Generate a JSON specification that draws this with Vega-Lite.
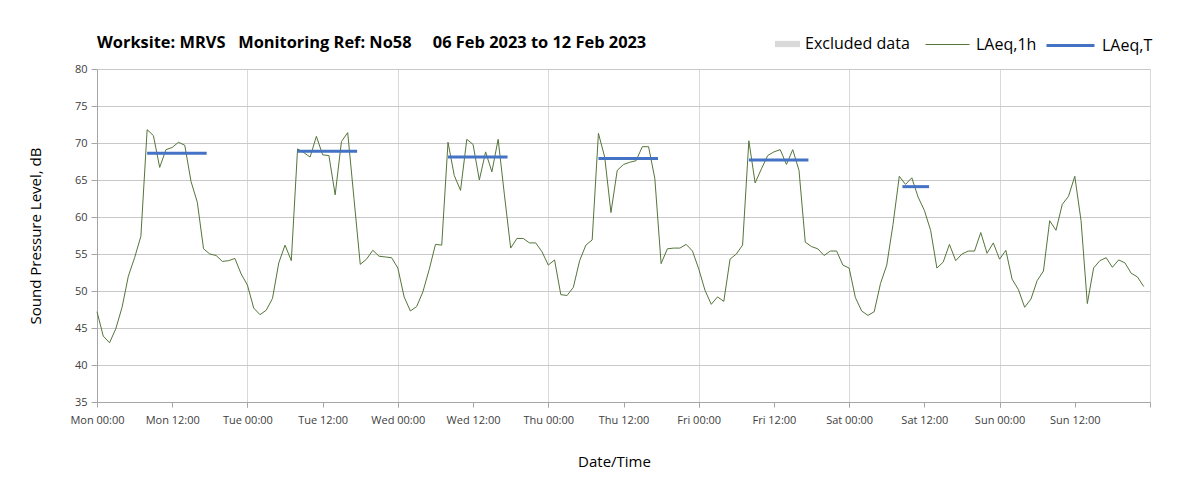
{
  "$schema": "https://vega.github.io/schema/vega-lite/v6.json",
  "width": 1053,
  "height": 333,
  "autosize": {"type": "none"},
  "padding": {"left": 97, "top": 69, "right": 53, "bottom": 94},
  "background": "white",
  "config": {"view": {"stroke": null}},
  "title": {
    "text": "Worksite: MRVS\u00a0\u00a0\u00a0Monitoring Ref: No58\u00a0\u00a0\u00a0\u00a0\u00a006 Feb 2023 to 12 Feb 2023",
    "anchor": "start",
    "frame": "group",
    "font": "Open Sans",
    "fontSize": 16.4,
    "fontWeight": "bold",
    "color": "#000000",
    "offset": 20,
    "dy": 51
  },
  "resolve": {"axis": {"x": "independent"}, "scale": {"stroke": "independent"}},
  "datasets": {
    "hourly": [
      {"t": "2023-02-06T00:00:00", "laeq": 47.2}, {"t": "2023-02-06T01:00:00", "laeq": 43.9}, {"t": "2023-02-06T02:00:00", "laeq": 43.0}, {"t": "2023-02-06T03:00:00", "laeq": 44.9},
      {"t": "2023-02-06T04:00:00", "laeq": 47.8}, {"t": "2023-02-06T05:00:00", "laeq": 52.0}, {"t": "2023-02-06T06:00:00", "laeq": 54.5}, {"t": "2023-02-06T07:00:00", "laeq": 57.4},
      {"t": "2023-02-06T08:00:00", "laeq": 71.8}, {"t": "2023-02-06T09:00:00", "laeq": 71.0}, {"t": "2023-02-06T10:00:00", "laeq": 66.7}, {"t": "2023-02-06T11:00:00", "laeq": 69.1},
      {"t": "2023-02-06T12:00:00", "laeq": 69.4}, {"t": "2023-02-06T13:00:00", "laeq": 70.1}, {"t": "2023-02-06T14:00:00", "laeq": 69.7}, {"t": "2023-02-06T15:00:00", "laeq": 64.8},
      {"t": "2023-02-06T16:00:00", "laeq": 62.0}, {"t": "2023-02-06T17:00:00", "laeq": 55.7}, {"t": "2023-02-06T18:00:00", "laeq": 55.0}, {"t": "2023-02-06T19:00:00", "laeq": 54.8},
      {"t": "2023-02-06T20:00:00", "laeq": 54.0}, {"t": "2023-02-06T21:00:00", "laeq": 54.1}, {"t": "2023-02-06T22:00:00", "laeq": 54.4}, {"t": "2023-02-06T23:00:00", "laeq": 52.3},
      {"t": "2023-02-07T00:00:00", "laeq": 50.8}, {"t": "2023-02-07T01:00:00", "laeq": 47.7}, {"t": "2023-02-07T02:00:00", "laeq": 46.8}, {"t": "2023-02-07T03:00:00", "laeq": 47.4},
      {"t": "2023-02-07T04:00:00", "laeq": 49.0}, {"t": "2023-02-07T05:00:00", "laeq": 53.8}, {"t": "2023-02-07T06:00:00", "laeq": 56.2}, {"t": "2023-02-07T07:00:00", "laeq": 54.1},
      {"t": "2023-02-07T08:00:00", "laeq": 69.2}, {"t": "2023-02-07T09:00:00", "laeq": 68.7}, {"t": "2023-02-07T10:00:00", "laeq": 68.1}, {"t": "2023-02-07T11:00:00", "laeq": 70.9},
      {"t": "2023-02-07T12:00:00", "laeq": 68.4}, {"t": "2023-02-07T13:00:00", "laeq": 68.3}, {"t": "2023-02-07T14:00:00", "laeq": 63.0}, {"t": "2023-02-07T15:00:00", "laeq": 70.2},
      {"t": "2023-02-07T16:00:00", "laeq": 71.4}, {"t": "2023-02-07T17:00:00", "laeq": 62.5}, {"t": "2023-02-07T18:00:00", "laeq": 53.6}, {"t": "2023-02-07T19:00:00", "laeq": 54.3},
      {"t": "2023-02-07T20:00:00", "laeq": 55.5}, {"t": "2023-02-07T21:00:00", "laeq": 54.7}, {"t": "2023-02-07T22:00:00", "laeq": 54.6}, {"t": "2023-02-07T23:00:00", "laeq": 54.5},
      {"t": "2023-02-08T00:00:00", "laeq": 53.1}, {"t": "2023-02-08T01:00:00", "laeq": 49.2}, {"t": "2023-02-08T02:00:00", "laeq": 47.3}, {"t": "2023-02-08T03:00:00", "laeq": 47.9},
      {"t": "2023-02-08T04:00:00", "laeq": 49.9}, {"t": "2023-02-08T05:00:00", "laeq": 52.9}, {"t": "2023-02-08T06:00:00", "laeq": 56.3}, {"t": "2023-02-08T07:00:00", "laeq": 56.2},
      {"t": "2023-02-08T08:00:00", "laeq": 70.1}, {"t": "2023-02-08T09:00:00", "laeq": 65.6}, {"t": "2023-02-08T10:00:00", "laeq": 63.6}, {"t": "2023-02-08T11:00:00", "laeq": 70.5},
      {"t": "2023-02-08T12:00:00", "laeq": 69.8}, {"t": "2023-02-08T13:00:00", "laeq": 65.0}, {"t": "2023-02-08T14:00:00", "laeq": 68.8}, {"t": "2023-02-08T15:00:00", "laeq": 66.1},
      {"t": "2023-02-08T16:00:00", "laeq": 70.5}, {"t": "2023-02-08T17:00:00", "laeq": 63.0}, {"t": "2023-02-08T18:00:00", "laeq": 55.8}, {"t": "2023-02-08T19:00:00", "laeq": 57.1},
      {"t": "2023-02-08T20:00:00", "laeq": 57.1}, {"t": "2023-02-08T21:00:00", "laeq": 56.5}, {"t": "2023-02-08T22:00:00", "laeq": 56.5}, {"t": "2023-02-08T23:00:00", "laeq": 55.3},
      {"t": "2023-02-09T00:00:00", "laeq": 53.5}, {"t": "2023-02-09T01:00:00", "laeq": 54.2}, {"t": "2023-02-09T02:00:00", "laeq": 49.5}, {"t": "2023-02-09T03:00:00", "laeq": 49.4},
      {"t": "2023-02-09T04:00:00", "laeq": 50.5}, {"t": "2023-02-09T05:00:00", "laeq": 54.1}, {"t": "2023-02-09T06:00:00", "laeq": 56.2}, {"t": "2023-02-09T07:00:00", "laeq": 56.9},
      {"t": "2023-02-09T08:00:00", "laeq": 71.3}, {"t": "2023-02-09T09:00:00", "laeq": 68.1}, {"t": "2023-02-09T10:00:00", "laeq": 60.6}, {"t": "2023-02-09T11:00:00", "laeq": 66.3},
      {"t": "2023-02-09T12:00:00", "laeq": 67.1}, {"t": "2023-02-09T13:00:00", "laeq": 67.4}, {"t": "2023-02-09T14:00:00", "laeq": 67.6}, {"t": "2023-02-09T15:00:00", "laeq": 69.5},
      {"t": "2023-02-09T16:00:00", "laeq": 69.5}, {"t": "2023-02-09T17:00:00", "laeq": 65.2}, {"t": "2023-02-09T18:00:00", "laeq": 53.7}, {"t": "2023-02-09T19:00:00", "laeq": 55.7},
      {"t": "2023-02-09T20:00:00", "laeq": 55.8}, {"t": "2023-02-09T21:00:00", "laeq": 55.8}, {"t": "2023-02-09T22:00:00", "laeq": 56.3}, {"t": "2023-02-09T23:00:00", "laeq": 55.4},
      {"t": "2023-02-10T00:00:00", "laeq": 53.0}, {"t": "2023-02-10T01:00:00", "laeq": 50.1}, {"t": "2023-02-10T02:00:00", "laeq": 48.2}, {"t": "2023-02-10T03:00:00", "laeq": 49.2},
      {"t": "2023-02-10T04:00:00", "laeq": 48.6}, {"t": "2023-02-10T05:00:00", "laeq": 54.3}, {"t": "2023-02-10T06:00:00", "laeq": 55.0}, {"t": "2023-02-10T07:00:00", "laeq": 56.2},
      {"t": "2023-02-10T08:00:00", "laeq": 70.3}, {"t": "2023-02-10T09:00:00", "laeq": 64.6}, {"t": "2023-02-10T10:00:00", "laeq": 66.5}, {"t": "2023-02-10T11:00:00", "laeq": 68.3},
      {"t": "2023-02-10T12:00:00", "laeq": 68.8}, {"t": "2023-02-10T13:00:00", "laeq": 69.1}, {"t": "2023-02-10T14:00:00", "laeq": 67.1}, {"t": "2023-02-10T15:00:00", "laeq": 69.1},
      {"t": "2023-02-10T16:00:00", "laeq": 66.3}, {"t": "2023-02-10T17:00:00", "laeq": 56.6}, {"t": "2023-02-10T18:00:00", "laeq": 56.0}, {"t": "2023-02-10T19:00:00", "laeq": 55.7},
      {"t": "2023-02-10T20:00:00", "laeq": 54.8}, {"t": "2023-02-10T21:00:00", "laeq": 55.4}, {"t": "2023-02-10T22:00:00", "laeq": 55.4}, {"t": "2023-02-10T23:00:00", "laeq": 53.5},
      {"t": "2023-02-11T00:00:00", "laeq": 53.1}, {"t": "2023-02-11T01:00:00", "laeq": 49.1}, {"t": "2023-02-11T02:00:00", "laeq": 47.3}, {"t": "2023-02-11T03:00:00", "laeq": 46.7},
      {"t": "2023-02-11T04:00:00", "laeq": 47.2}, {"t": "2023-02-11T05:00:00", "laeq": 51.0}, {"t": "2023-02-11T06:00:00", "laeq": 53.5}, {"t": "2023-02-11T07:00:00", "laeq": 59.0},
      {"t": "2023-02-11T08:00:00", "laeq": 65.5}, {"t": "2023-02-11T09:00:00", "laeq": 64.4}, {"t": "2023-02-11T10:00:00", "laeq": 65.3}, {"t": "2023-02-11T11:00:00", "laeq": 62.7},
      {"t": "2023-02-11T12:00:00", "laeq": 60.9}, {"t": "2023-02-11T13:00:00", "laeq": 58.2}, {"t": "2023-02-11T14:00:00", "laeq": 53.1}, {"t": "2023-02-11T15:00:00", "laeq": 53.9},
      {"t": "2023-02-11T16:00:00", "laeq": 56.3}, {"t": "2023-02-11T17:00:00", "laeq": 54.1}, {"t": "2023-02-11T18:00:00", "laeq": 55.0}, {"t": "2023-02-11T19:00:00", "laeq": 55.4},
      {"t": "2023-02-11T20:00:00", "laeq": 55.4}, {"t": "2023-02-11T21:00:00", "laeq": 57.9}, {"t": "2023-02-11T22:00:00", "laeq": 55.1}, {"t": "2023-02-11T23:00:00", "laeq": 56.5},
      {"t": "2023-02-12T00:00:00", "laeq": 54.3}, {"t": "2023-02-12T01:00:00", "laeq": 55.5}, {"t": "2023-02-12T02:00:00", "laeq": 51.6}, {"t": "2023-02-12T03:00:00", "laeq": 50.2},
      {"t": "2023-02-12T04:00:00", "laeq": 47.8}, {"t": "2023-02-12T05:00:00", "laeq": 48.9}, {"t": "2023-02-12T06:00:00", "laeq": 51.4}, {"t": "2023-02-12T07:00:00", "laeq": 52.7},
      {"t": "2023-02-12T08:00:00", "laeq": 59.5}, {"t": "2023-02-12T09:00:00", "laeq": 58.2}, {"t": "2023-02-12T10:00:00", "laeq": 61.7}, {"t": "2023-02-12T11:00:00", "laeq": 62.8},
      {"t": "2023-02-12T12:00:00", "laeq": 65.5}, {"t": "2023-02-12T13:00:00", "laeq": 59.5}, {"t": "2023-02-12T14:00:00", "laeq": 48.3}, {"t": "2023-02-12T15:00:00", "laeq": 53.1},
      {"t": "2023-02-12T16:00:00", "laeq": 54.1}, {"t": "2023-02-12T17:00:00", "laeq": 54.5}, {"t": "2023-02-12T18:00:00", "laeq": 53.2}, {"t": "2023-02-12T19:00:00", "laeq": 54.2},
      {"t": "2023-02-12T20:00:00", "laeq": 53.8}, {"t": "2023-02-12T21:00:00", "laeq": 52.4}, {"t": "2023-02-12T22:00:00", "laeq": 51.9}, {"t": "2023-02-12T23:00:00", "laeq": 50.6}
    ],
    "periods": [
      {"start": "2023-02-06T08:00:00", "end": "2023-02-06T17:30:00", "laeqT": 68.6},
      {"start": "2023-02-07T08:00:00", "end": "2023-02-07T17:30:00", "laeqT": 68.9},
      {"start": "2023-02-08T08:00:00", "end": "2023-02-08T17:30:00", "laeqT": 68.1},
      {"start": "2023-02-09T08:00:00", "end": "2023-02-09T17:30:00", "laeqT": 67.9},
      {"start": "2023-02-10T08:00:00", "end": "2023-02-10T17:30:00", "laeqT": 67.7},
      {"start": "2023-02-11T08:30:00", "end": "2023-02-11T12:45:00", "laeqT": 64.1}
    ],
    "excluded": []
  },
  "layer": [
    {
      "data": {"name": "excluded"},
      "mark": {"type": "rect"},
      "encoding": {
        "x": {"field": "start", "type": "temporal", "axis": null},
        "x2": {"field": "end"},
        "fill": {
          "datum": "Excluded data",
          "type": "nominal",
          "scale": {"domain": ["Excluded data"], "range": ["#d9d9d9"]},
          "legend": {
            "orient": "none",
            "legendX": 678,
            "legendY": -37.5,
            "title": null,
            "symbolType": "M-1,-0.25H1V0.25H-1Z",
            "symbolSize": 625,
            "symbolStrokeWidth": 0,
            "labelFont": "Open Sans",
            "labelFontSize": 16,
            "labelColor": "#000000",
            "labelOffset": 5
          }
        }
      }
    },
    {
      "data": {"name": "hourly"},
      "mark": {"type": "line", "strokeWidth": 1},
      "encoding": {
        "x": {
          "field": "t",
          "type": "temporal",
          "scale": {"domain": [{"year": 2023, "month": 2, "date": 6}, {"year": 2023, "month": 2, "date": 13}], "nice": false},
          "axis": {
            "orient": "bottom",
            "title": "Date/Time",
            "format": "%a %H:%M",
            "tickCount": 40,
            "values": [
              {"year": 2023, "month": 2, "date": 6, "hours": 0}, {"year": 2023, "month": 2, "date": 6, "hours": 12},
              {"year": 2023, "month": 2, "date": 7, "hours": 0}, {"year": 2023, "month": 2, "date": 7, "hours": 12},
              {"year": 2023, "month": 2, "date": 8, "hours": 0}, {"year": 2023, "month": 2, "date": 8, "hours": 12},
              {"year": 2023, "month": 2, "date": 9, "hours": 0}, {"year": 2023, "month": 2, "date": 9, "hours": 12},
              {"year": 2023, "month": 2, "date": 10, "hours": 0}, {"year": 2023, "month": 2, "date": 10, "hours": 12},
              {"year": 2023, "month": 2, "date": 11, "hours": 0}, {"year": 2023, "month": 2, "date": 11, "hours": 12},
              {"year": 2023, "month": 2, "date": 12, "hours": 0}, {"year": 2023, "month": 2, "date": 12, "hours": 12}
            ],
            "grid": false,
            "domainColor": "#a6a6a6",
            "tickColor": "#a6a6a6",
            "tickSize": 5,
            "labelFont": "Open Sans",
            "labelFontSize": 11,
            "labelColor": "#404040",
            "labelPadding": 7,
            "labelFlush": false,
            "labelOverlap": false,
            "titleFont": "Open Sans",
            "titleFontSize": 15,
            "titleFontWeight": "normal",
            "titleColor": "#000000",
            "titleX": 517,
            "titleY": 59,
            "titleBaseline": "middle"
          }
        },
        "y": {
          "field": "laeq",
          "type": "quantitative",
          "scale": {"domain": [35, 80], "nice": false, "zero": false},
          "axis": {
            "title": "Sound Pressure Level, dB",
            "values": [35, 40, 45, 50, 55, 60, 65, 70, 75, 80],
            "tickCount": 20,
            "grid": true,
            "gridColor": "#c8c8c8",
            "domainColor": "#a6a6a6",
            "tickColor": "#a6a6a6",
            "tickSize": 6,
            "labelPadding": 4,
            "labelFont": "Open Sans",
            "labelFontSize": 11,
            "labelColor": "#404040",
            "titleFont": "Open Sans",
            "titleFontSize": 15,
            "titleFontWeight": "normal",
            "titleColor": "#000000",
            "titleX": -62,
            "titleY": 166.5,
            "titleBaseline": "middle"
          }
        },
        "stroke": {
          "datum": "LAeq,1h",
          "type": "nominal",
          "scale": {"domain": ["LAeq,1h"], "range": ["#55753a"]},
          "legend": {
            "orient": "none",
            "legendX": 828,
            "legendY": -47,
            "title": null,
            "symbolType": "stroke",
            "symbolSize": 1936,
            "symbolStrokeWidth": 1,
            "labelFont": "Open Sans",
            "labelFontSize": 16,
            "labelColor": "#000000",
            "labelOffset": 6
          }
        }
      }
    },
    {
      "data": {"name": "periods"},
      "mark": {"type": "rule", "strokeCap": "butt", "strokeWidth": 3},
      "encoding": {
        "x": {
          "field": "start",
          "type": "temporal",
          "axis": {
            "orient": "bottom",
            "title": null,
            "tickCount": 40,
            "values": [
              {"year": 2023, "month": 2, "date": 7, "hours": 0}, {"year": 2023, "month": 2, "date": 8, "hours": 0},
              {"year": 2023, "month": 2, "date": 9, "hours": 0}, {"year": 2023, "month": 2, "date": 10, "hours": 0},
              {"year": 2023, "month": 2, "date": 11, "hours": 0}, {"year": 2023, "month": 2, "date": 12, "hours": 0},
              {"year": 2023, "month": 2, "date": 13, "hours": 0}
            ],
            "labels": false,
            "domain": false,
            "grid": true,
            "gridColor": "#d9d9d9",
            "ticks": true,
            "tickColor": "#a6a6a6",
            "tickSize": 5
          }
        },
        "x2": {"field": "end"},
        "y": {"field": "laeqT", "type": "quantitative"},
        "stroke": {
          "datum": "LAeq,T",
          "type": "nominal",
          "scale": {"domain": ["LAeq,T"], "range": ["#4472c4"]},
          "legend": {
            "orient": "none",
            "legendX": 948,
            "legendY": -49,
            "title": null,
            "symbolType": "stroke",
            "symbolSize": 2304,
            "symbolStrokeWidth": 3,
            "labelFont": "Open Sans",
            "labelFontSize": 16,
            "labelColor": "#000000",
            "labelOffset": 6
          }
        }
      }
    }
  ]
}
